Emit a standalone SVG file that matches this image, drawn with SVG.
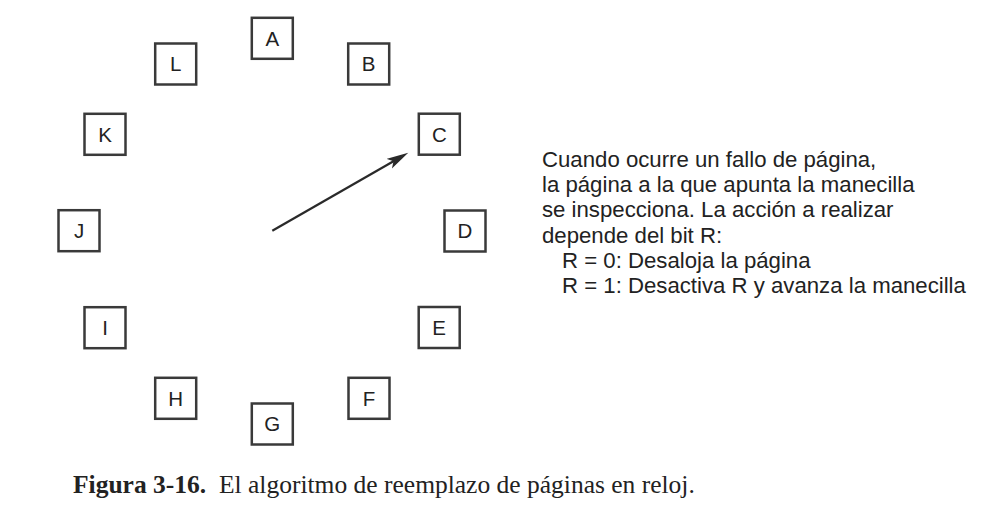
<svg xmlns="http://www.w3.org/2000/svg" width="1002" height="516" viewBox="0 0 1002 516">
<style>
.box{fill:#fff;stroke:#3a3a3a;stroke-width:2.5}
.lbl{font-family:"Liberation Sans",Arial,sans-serif;font-size:20.5px;fill:#222;text-anchor:middle}
.txt{font-family:"Liberation Sans",Arial,sans-serif;font-size:22.2px;fill:#222}
.cap{font-family:"Liberation Serif","Times New Roman",serif;font-size:25.5px;fill:#222}
.hand{stroke:#2a2a2a;stroke-width:2.2;fill:none}
</style>
<defs>
<marker id="ah" markerUnits="userSpaceOnUse" markerWidth="24" markerHeight="12" refX="12" refY="5.5" orient="auto" viewBox="0 0 24 12">
<path d="M0,0 L22,5.5 L0,11 L5,5.5 Z" fill="#2a2a2a"/>
</marker>
</defs>
<rect width="1002" height="516" fill="#fff"/>
<g id="node-A"><rect class="box" x="251.8" y="17.8" width="41" height="41"/><text class="lbl" x="272.3" y="45.6">A</text></g>
<g id="node-B"><rect class="box" x="348.2" y="43.5" width="41" height="41"/><text class="lbl" x="368.7" y="71.3">B</text></g>
<g id="node-C"><rect class="box" x="418.8" y="113.7" width="41" height="41"/><text class="lbl" x="439.3" y="141.5">C</text></g>
<g id="node-D"><rect class="box" x="444.5" y="210.5" width="41" height="41"/><text class="lbl" x="465" y="238.3">D</text></g>
<g id="node-E"><rect class="box" x="418.7" y="307" width="41" height="41"/><text class="lbl" x="439.2" y="334.8">E</text></g>
<g id="node-F"><rect class="box" x="348.5" y="377.8" width="41" height="41"/><text class="lbl" x="369" y="405.6">F</text></g>
<g id="node-G"><rect class="box" x="251.8" y="403.5" width="41" height="41"/><text class="lbl" x="272.3" y="431.3">G</text></g>
<g id="node-H"><rect class="box" x="155.2" y="377.8" width="41" height="41"/><text class="lbl" x="175.7" y="405.6">H</text></g>
<g id="node-I"><rect class="box" x="84.5" y="307.2" width="41" height="41"/><text class="lbl" x="105" y="335">I</text></g>
<g id="node-J"><rect class="box" x="58.5" y="210.2" width="41" height="41"/><text class="lbl" x="79" y="238">J</text></g>
<g id="node-K"><rect class="box" x="84.5" y="113.8" width="41" height="41"/><text class="lbl" x="105" y="141.6">K</text></g>
<g id="node-L"><rect class="box" x="155.2" y="43.5" width="41" height="41"/><text class="lbl" x="175.7" y="71.3">L</text></g>
<g id="connectors">
<line class="hand" x1="272.3" y1="230.7" x2="399.6" y2="157.7" marker-end="url(#ah)"/>
</g>
<g id="note">
<text class="txt" x="542" y="167">Cuando ocurre un fallo de página,</text>
<text class="txt" x="542" y="192.2">la página a la que apunta la manecilla</text>
<text class="txt" x="542" y="217.4">se inspecciona. La acción a realizar</text>
<text class="txt" x="542" y="242.6">depende del bit R:</text>
<text class="txt" x="562" y="267.8">R = 0: Desaloja la página</text>
<text class="txt" x="562" y="293">R = 1: Desactiva R y avanza la manecilla</text>
</g>
<g id="caption">
<text class="cap" y="493"><tspan x="73" font-weight="bold">Figura 3-16.</tspan><tspan x="219">El algoritmo de reemplazo de páginas en reloj.</tspan></text>
</g>
</svg>
